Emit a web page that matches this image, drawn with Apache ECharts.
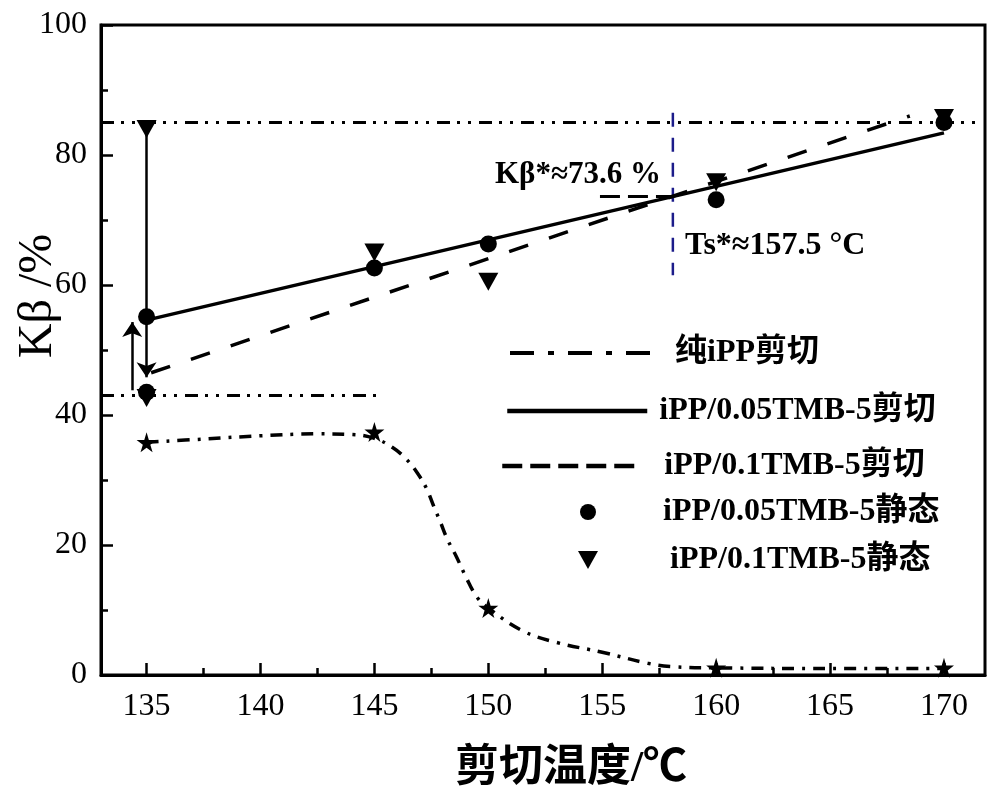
<!DOCTYPE html>
<html><head><meta charset="utf-8">
<script src="https://cdn.jsdelivr.net/npm/echarts@6/dist/echarts.min.js"></script>
<style>html,body{margin:0;padding:0;background:#fff}#c{width:1000px;height:799px}</style>
</head><body><div id="c"></div>
<script>
// ---- data ----
const xTicks = [135, 140, 145, 150, 155, 160, 165, 170];
const xMinorTicks = [137.5, 142.5, 147.5, 152.5, 157.5, 162.5, 167.5];

const pureStarX = [135, 145, 150, 160, 170];
const pureStarY = [35.8, 37.4, 10.3, 1.1, 1.1];
const pureFitX = [135, 137.5, 140, 142.5, 144, 145, 145.8, 146.4, 146.9, 147.3, 147.6, 147.9, 148.2, 148.6, 149, 149.5, 150, 151.5, 153, 155, 157, 158, 160, 165, 170];
const pureFitY = [35.8, 36.3, 36.8, 37.1, 37.0, 36.4, 35.0, 33.2, 31.0, 28.6, 26.0, 23.5, 20.9, 18.2, 15.2, 12.0, 10.3, 6.8, 5.0, 3.5, 1.8, 1.3, 1.1, 1.0, 1.0];

// iPP/0.05TMB-5 shear points (circles) and linear fit
const shear05X = [135, 145, 150, 160, 170];
const shear05Y = [55.1, 62.6, 66.3, 73.1, 85.0];
const fit05X = [135, 170];
const fit05Y = [54.6, 83.4];

// iPP/0.1TMB-5 shear points (triangles) and linear fit
const shear01X = [135, 145, 150, 160, 170];
const shear01Y = [84.0, 65.0, 60.5, 75.8, 85.7];
const fit01X = [135.2, 168.5];
const fit01Y = [46.5, 86.0];

// static values
const static05X = [135];
const static05Y = [43.5];
const static01X = [135];
const static01Y = [42.6];

// reference lines / annotations
const refHigh = 85;
const refLow = 43;
const refLowEnd = 145.3;
const tsLineX = 158.1;   // where the blue guide is drawn in the picture
const kbStar = 73.6;
const downArrow = [[135, 84], [135, 45.8]];
const upArrow = [[134.37, 43.8], [134.37, 54.3]];

const names = ['纯iPP剪切', 'iPP/0.05TMB-5剪切', 'iPP/0.1TMB-5剪切', 'iPP/0.05TMB-5静态', 'iPP/0.1TMB-5静态'];

const zip = (xs, ys) => xs.map((x, i) => [x, ys[i]]);
const SERIF = "'Liberation Serif', 'Noto Sans CJK SC', serif";
const STAR = 'path://M50,0 L61,35 L98,35 L68,57 L79,91 L50,70 L21,91 L32,57 L2,35 L39,35 Z';
const TRI_DOWN = 'path://M0,0 L20,0 L10,18 Z';
const XMIN = 133, XMAX = 171.8;

const chart = echarts.init(document.getElementById('c'));

function legendAt(name, left, top, w, h, pad, lineStyle) {
  const l = {
    data: [name], left: left, top: top, orient: 'horizontal', padding: 0,
    itemWidth: w, itemHeight: h, selectedMode: false,
    textStyle: { fontFamily: SERIF, fontWeight: 'bold', fontSize: 32, color: '#000', lineHeight: 34, padding: [0, 0, 0, pad] }
  };
  if (lineStyle) {
    l.lineStyle = lineStyle;
    l.itemStyle = { opacity: 0, color: 'transparent', borderWidth: 0 };
  } else {
    l.itemStyle = { color: '#000', opacity: 1 };
  }
  return l;
}

const option = {
  backgroundColor: '#fff',
  animation: false,
  grid: { left: 101, right: 15, top: 25, bottom: 124, show: true, borderColor: '#000', borderWidth: 3, backgroundColor: 'transparent' },
  xAxis: [{
    type: 'value', min: XMIN, max: XMAX,
    axisLine: { show: true, lineStyle: { color: '#000', width: 3 } },
    axisTick: { show: true, inside: true, length: 12, lineStyle: { color: '#000', width: 2.5 }, customValues: xTicks },
    axisLabel: { show: true, color: '#000', fontFamily: SERIF, fontSize: 32, margin: 16, customValues: xTicks },
    splitLine: { show: false }
  }, {
    type: 'value', min: XMIN, max: XMAX, position: 'bottom',
    axisLine: { show: false },
    axisTick: { show: true, inside: true, length: 7, lineStyle: { color: '#000', width: 2.5 }, customValues: xMinorTicks },
    axisLabel: { show: false },
    splitLine: { show: false }
  }],
  yAxis: {
    type: 'value', min: 0, max: 100, interval: 20,
    axisLine: { show: true, lineStyle: { color: '#000', width: 3 } },
    axisTick: { show: true, inside: true, length: 12, lineStyle: { color: '#000', width: 2.5 } },
    minorTick: { show: true, splitNumber: 2, length: 7, lineStyle: { color: '#000', width: 2.5 } },
    axisLabel: { color: '#000', fontFamily: SERIF, fontSize: 32, margin: 14 },
    splitLine: { show: false }
  },
  legend: [
    legendAt(names[0], 508, 336, 142, 14, 18, { type: [24, 14, 6, 14], width: 4, color: '#000' }),
    legendAt(names[1], 505, 394, 140, 14, 7, { type: 'solid', width: 4.5, color: '#000' }),
    legendAt(names[2], 500, 449, 137, 14, 20, { type: [20, 8], width: 4.5, color: '#000' }),
    legendAt(names[3], 580, 495, 16, 16, 62),
    legendAt(names[4], 578, 543, 20, 18, 67)
  ],
  graphic: [
    { type: 'text', x: 38, y: 296, rotation: Math.PI / 2,
      style: { text: 'Kβ /%', fontFamily: SERIF, fontSize: 48, fill: '#000', align: 'center', verticalAlign: 'middle' } },
    { type: 'text', x: 571, y: 770,
      style: { text: '剪切温度/℃', fontFamily: SERIF, fontWeight: 'bold', fontSize: 44, fill: '#000', align: 'center', verticalAlign: 'middle' } },
    { type: 'text', x: 495, y: 175,
      style: { text: 'Kβ*≈73.6 %', fontFamily: SERIF, fontWeight: 'bold', fontSize: 31, fill: '#000', align: 'left', verticalAlign: 'middle' } },
    { type: 'text', x: 685, y: 246,
      style: { text: 'Ts*≈157.5 °C', fontFamily: SERIF, fontWeight: 'bold', fontSize: 32, fill: '#000', align: 'left', verticalAlign: 'middle' } }
  ],
  series: [
    { name: names[0], type: 'line', data: zip(pureFitX, pureFitY), smooth: 0.4, symbol: 'none',
      lineStyle: { color: '#000', width: 3.5, type: [12, 8, 3, 8] }, itemStyle: { color: '#000' }, z: 3 },
    { name: 'pureStars', type: 'scatter', data: zip(pureStarX, pureStarY), symbol: STAR, symbolSize: 20,
      itemStyle: { color: '#000', opacity: 1 }, z: 5 },
    { name: names[1], type: 'line', data: zip(fit05X, fit05Y), symbol: 'none',
      lineStyle: { color: '#000', width: 3.5, type: 'solid' }, itemStyle: { color: '#000' }, z: 4 },
    { name: names[2], type: 'line', data: zip(fit01X, fit01Y), symbol: 'none',
      lineStyle: { color: '#000', width: 3.5, type: [20, 22] }, itemStyle: { color: '#000' }, z: 4 },
    { name: names[3], type: 'scatter', data: zip(static05X, static05Y), symbol: 'circle', symbolSize: 17,
      itemStyle: { color: '#000', opacity: 1 }, z: 6 },
    { name: names[4], type: 'scatter', data: zip(static01X, static01Y), symbol: TRI_DOWN, symbolSize: [20, 18],
      itemStyle: { color: '#000', opacity: 1 }, z: 6 },
    { name: 'shear05', type: 'scatter', data: zip(shear05X, shear05Y), symbol: 'circle', symbolSize: 17,
      itemStyle: { color: '#000', opacity: 1 }, z: 6 },
    { name: 'shear01', type: 'scatter', data: zip(shear01X, shear01Y), symbol: TRI_DOWN, symbolSize: [20, 18],
      itemStyle: { color: '#000', opacity: 1 }, z: 6 },
    { name: 'refHigh', type: 'line', data: [[XMIN, refHigh], [171.4, refHigh]], symbol: 'none',
      lineStyle: { color: '#000', width: 3, type: [13, 7, 3, 8, 3, 8] }, z: 2, silent: true },
    { name: 'refLow', type: 'line', data: [[XMIN, refLow], [refLowEnd, refLow]], symbol: 'none',
      lineStyle: { color: '#000', width: 3, type: [13, 7, 3, 8, 3, 8] }, z: 2, silent: true },
    { name: 'tsLine', type: 'line', data: [[tsLineX, 86.5], [tsLineX, 61.5]], symbol: 'none',
      lineStyle: { color: '#1c1c8a', width: 2.5, type: [14, 11] }, z: 2, silent: true },
    { name: 'kbLine', type: 'line', data: [[154.9, kbStar], [tsLineX, kbStar]], symbol: 'none',
      lineStyle: { color: '#000', width: 3, type: [20, 8] }, z: 2, silent: true,
      markLine: {
        silent: true, symbol: ['none', 'arrow'], symbolSize: 15, label: { show: false },
        lineStyle: { color: '#000', width: 2.5, type: 'solid' },
        data: [
          [{ coord: downArrow[0] }, { coord: downArrow[1] }],
          [{ coord: upArrow[0] }, { coord: upArrow[1] }]
        ]
      } }
  ]
};
chart.setOption(option);
</script>
</body></html>
